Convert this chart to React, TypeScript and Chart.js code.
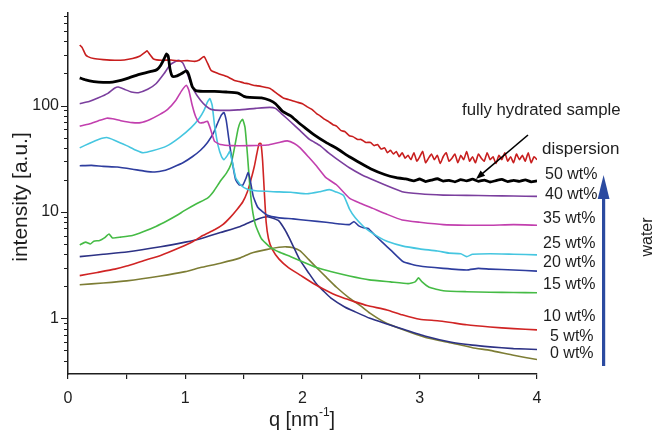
import React, { useEffect, useRef } from "react";
import { Chart, registerables } from "chart.js";

Chart.register(...registerables);

type Pt = [number, number];

// ---------- axes ----------
const Q_MIN = 0;
const Q_MAX = 4;
const I_MIN = 0.31;
const I_MAX = 740;
const X_TICKS = [0, 0.5, 1, 1.5, 2, 2.5, 3, 3.5, 4];
const X_LABELS = [0, 1, 2, 3, 4];
const Y_MAJOR = [1, 10, 100];
const Y_MINOR = [0.4, 0.5, 0.6, 0.7, 0.8, 0.9, 2, 3, 4, 5, 6, 7, 8, 9, 20, 30, 40, 50, 60, 70, 80, 90, 200, 300, 400, 500, 600, 700];

const X_TITLE = "q [nm";
const X_TITLE_SUP = "-1";
const X_TITLE_END = "]";
const Y_TITLE = "intensity [a.u.]";
const NOTE = "fully hydrated sample";
const WATER = "water";

// ---------- series (q [nm^-1], intensity [a.u.]) ----------
const dispersion: Pt[] = [
  [0.10, 370], [0.12, 352], [0.15, 300], [0.17, 288], [0.22, 276], [0.30, 270], [0.40, 266], [0.48, 268],
  [0.55, 276], [0.61, 290], [0.66, 318], [0.675, 326], [0.70, 300], [0.73, 274], [0.80, 266], [0.88, 268],
  [0.95, 262], [1.02, 264], [1.08, 260], [1.12, 268], [1.16, 288], [1.19, 250], [1.22, 214], [1.28, 200],
  [1.35, 188], [1.42, 172], [1.46, 168], [1.50, 163], [1.54, 160], [1.58, 155], [1.62, 153], [1.66, 150],
  [1.72, 145], [1.78, 130], [1.84, 117], [1.88, 114], [1.92, 110], [1.96, 107], [2.00, 104], [2.04, 97],
  [2.08, 92], [2.12, 84], [2.15, 80], [2.19, 74], [2.22, 71], [2.26, 66], [2.29, 64], [2.33, 58],
  [2.36, 57], [2.40, 52], [2.43, 51], [2.47, 48], [2.50, 48], [2.54, 45], [2.58, 45], [2.61, 42],
  [2.64, 43], [2.67, 39], [2.70, 40], [2.725, 36], [2.75, 38], [2.775, 35], [2.80, 37], [2.825, 33],
  [2.85, 36], [2.875, 32],
  [2.900, 34], [2.925, 31], [2.950, 36], [2.975, 30], [3.000, 33], [3.025, 37], [3.050, 29], [3.075, 32],
  [3.100, 35], [3.125, 31], [3.150, 34], [3.175, 28.5], [3.200, 33], [3.225, 36], [3.250, 30], [3.275, 32],
  [3.300, 35], [3.325, 29], [3.350, 34], [3.375, 31], [3.400, 37], [3.425, 30], [3.450, 33], [3.475, 29],
  [3.500, 35], [3.525, 32], [3.550, 30], [3.575, 36], [3.600, 31], [3.625, 33], [3.650, 28.5], [3.675, 34],
  [3.700, 31], [3.725, 36], [3.750, 30], [3.775, 33], [3.800, 29], [3.825, 35], [3.850, 31], [3.875, 34],
  [3.900, 30], [3.925, 36], [3.950, 29], [3.975, 33], [4.000, 31],
];

const wt50: Pt[] = [
  [0.10, 182], [0.15, 174], [0.22, 168], [0.30, 165], [0.38, 166], [0.45, 172], [0.52, 182], [0.60, 195],
  [0.66, 203], [0.72, 210], [0.76, 218], [0.79, 238], [0.82, 275], [0.84, 305], [0.855, 290], [0.87, 220],
  [0.89, 188], [0.93, 190], [0.97, 200], [1.01, 212], [1.03, 195], [1.06, 150], [1.09, 138], [1.15, 136],
  [1.25, 136], [1.35, 134], [1.45, 131], [1.50, 122], [1.55, 119], [1.65, 118], [1.72, 112], [1.77, 104],
  [1.83, 88], [1.90, 80], [1.96, 70], [2.02, 62], [2.10, 53], [2.20, 45], [2.30, 39], [2.40, 33],
  [2.50, 28.5], [2.58, 25.5], [2.70, 22.5], [2.80, 21], [2.88, 20.4],
  [2.90, 20.2], [2.95, 19.6], [3.00, 20.4], [3.05, 19.3], [3.10, 19.9], [3.15, 20.5], [3.20, 19.5], [3.25, 19.8],
  [3.30, 19.2], [3.35, 20.1], [3.40, 19.6], [3.45, 20.3], [3.50, 19.4], [3.55, 19.9], [3.60, 19.1], [3.65, 19.7],
  [3.70, 20.2], [3.75, 19.3], [3.80, 19.8], [3.85, 19.4], [3.90, 20.0], [3.95, 19.2], [4.00, 19.6],
];

const wt40: Pt[] = [
  [0.10, 104], [0.18, 109], [0.26, 118], [0.34, 130], [0.40, 146], [0.43, 149], [0.48, 142], [0.54, 134],
  [0.60, 132], [0.68, 142], [0.75, 160], [0.82, 200], [0.87, 240], [0.92, 260], [0.95, 265], [0.98, 250],
  [1.01, 210], [1.04, 170], [1.08, 135], [1.13, 112], [1.18, 98], [1.22, 92], [1.30, 90], [1.45, 91],
  [1.60, 94], [1.72, 96], [1.77, 94], [1.82, 84], [1.90, 70], [1.98, 58], [2.06, 48], [2.15, 42],
  [2.22, 36], [2.30, 31], [2.40, 26], [2.50, 22.5], [2.58, 20.5], [2.70, 18], [2.85, 15.5], [3.00, 14.8],
  [3.20, 14.4], [3.40, 14.3], [3.60, 14.2], [3.80, 14.1], [4.00, 14.0],
];

const wt35: Pt[] = [
  [0.10, 64], [0.18, 67], [0.26, 72], [0.33, 76], [0.38, 75], [0.45, 72], [0.55, 69], [0.62, 69],
  [0.70, 74], [0.78, 82], [0.85, 92], [0.92, 112], [0.97, 138], [1.01, 155], [1.03, 140], [1.06, 100],
  [1.09, 78], [1.12, 69], [1.15, 69], [1.19, 71], [1.22, 58], [1.25, 46], [1.30, 43], [1.40, 42],
  [1.55, 42], [1.70, 42.5], [1.80, 45], [1.87, 46.5], [1.93, 44], [1.98, 40], [2.05, 33], [2.12, 27],
  [2.20, 21], [2.29, 18], [2.40, 13.5], [2.50, 12], [2.60, 10.8], [2.72, 9.5], [2.85, 8.4], [3.00, 8.0],
  [3.20, 7.6], [3.40, 7.5], [3.60, 7.5], [3.80, 7.6], [4.00, 7.5],
];

const wt25: Pt[] = [
  [0.10, 40], [0.18, 44], [0.26, 48], [0.33, 50], [0.40, 47], [0.50, 42], [0.58, 38], [0.64, 36],
  [0.72, 37.5], [0.84, 41.5], [0.95, 50], [1.05, 62], [1.12, 76], [1.16, 90], [1.19, 108], [1.21, 116],
  [1.23, 100], [1.25, 65], [1.28, 42], [1.31, 33], [1.33, 31], [1.36, 34], [1.38, 37], [1.40, 30],
  [1.43, 21], [1.47, 18], [1.53, 16.3], [1.60, 15.8], [1.75, 15.5], [1.90, 15.3], [2.04, 14.8], [2.15, 15.5],
  [2.23, 16.2], [2.28, 15.5], [2.35, 14.3], [2.40, 10.7], [2.45, 8.8], [2.52, 7.3], [2.57, 6.6], [2.65, 5.8],
  [2.72, 5.3], [2.85, 4.8], [3.00, 4.5], [3.15, 4.3], [3.25, 4.1], [3.35, 4.05], [3.40, 3.8], [3.45, 4.0],
  [3.60, 4.05], [3.80, 4.0], [4.00, 3.95],
];

const wt20: Pt[] = [
  [0.10, 27.2], [0.20, 27.4], [0.30, 26.8], [0.42, 26.4], [0.55, 25.2], [0.65, 24.2], [0.74, 23.7], [0.82, 24.5],
  [0.90, 26.5], [0.98, 29], [1.06, 33], [1.13, 38], [1.19, 45], [1.24, 55], [1.28, 70], [1.31, 82],
  [1.33, 86], [1.35, 72], [1.37, 50], [1.40, 30], [1.43, 20], [1.46, 18], [1.49, 17.8], [1.52, 21],
  [1.535, 23.5], [1.55, 21], [1.58, 14], [1.62, 11], [1.70, 9.3], [1.80, 8.8], [1.92, 8.6], [2.05, 8.3],
  [2.20, 8.0], [2.32, 7.7], [2.40, 7.6], [2.44, 8.1], [2.48, 7.4], [2.52, 7.1], [2.56, 7.0], [2.62, 6.0],
  [2.68, 5.2], [2.76, 4.3], [2.86, 3.4], [3.00, 3.1], [3.20, 2.95], [3.40, 2.85], [3.50, 2.95], [3.60, 2.9],
  [3.80, 2.85], [4.00, 2.78],
];

const wt15: Pt[] = [
  [0.10, 4.9], [0.15, 5.2], [0.19, 5.0], [0.22, 5.3], [0.27, 5.4], [0.31, 5.7], [0.35, 6.2], [0.38, 5.7],
  [0.45, 5.8], [0.55, 6.0], [0.64, 6.5], [0.75, 7.3], [0.85, 8.3], [0.93, 9.3], [1.00, 10.4], [1.10, 12.0],
  [1.19, 13.5], [1.24, 15.5], [1.30, 19.5], [1.35, 23], [1.39, 28], [1.42, 40], [1.45, 60], [1.47, 70],
  [1.49, 74], [1.51, 62], [1.53, 35], [1.55, 18], [1.57, 11], [1.60, 7.5], [1.65, 5.6], [1.72, 4.7],
  [1.80, 4.2], [1.90, 3.8], [2.00, 3.4], [2.12, 3.0], [2.24, 2.75], [2.40, 2.5], [2.57, 2.3], [2.75, 2.2],
  [2.90, 2.12], [2.96, 2.2], [2.99, 2.4], [3.02, 2.2], [3.08, 1.96], [3.20, 1.82], [3.40, 1.78], [3.60, 1.76],
  [3.80, 1.75], [4.00, 1.74],
];

const wt10: Pt[] = [
  [0.10, 2.52], [0.25, 2.7], [0.40, 2.9], [0.50, 3.1], [0.65, 3.5], [0.79, 3.9], [0.95, 4.6], [1.07, 5.3],
  [1.15, 6.0], [1.25, 6.8], [1.32, 7.6], [1.38, 8.8], [1.44, 10.5], [1.49, 12.4], [1.53, 15.5], [1.56, 20],
  [1.59, 27], [1.61, 35], [1.63, 44], [1.645, 44], [1.66, 30], [1.675, 15], [1.69, 8], [1.71, 5.6],
  [1.74, 4.5], [1.80, 3.6], [1.88, 3.0], [1.98, 2.55], [2.10, 2.1], [2.24, 1.74], [2.35, 1.55], [2.43, 1.45],
  [2.55, 1.32], [2.72, 1.2], [2.85, 1.08], [3.00, 0.98], [3.15, 0.95], [3.25, 0.92], [3.40, 0.87], [3.60, 0.83],
  [3.80, 0.8], [4.00, 0.78],
];

const wt5: Pt[] = [
  [0.10, 3.8], [0.30, 4.0], [0.50, 4.2], [0.79, 4.7], [1.00, 5.2], [1.13, 5.6], [1.30, 6.4], [1.47, 7.3],
  [1.55, 8.0], [1.62, 8.6], [1.70, 9.0], [1.75, 8.7], [1.80, 8.2], [1.85, 6.8], [1.89, 5.6], [1.94, 4.3],
  [1.98, 3.5], [2.05, 2.7], [2.12, 2.1], [2.18, 1.8], [2.24, 1.56], [2.36, 1.28], [2.45, 1.15], [2.575, 1.0],
  [2.70, 0.9], [2.86, 0.79], [3.05, 0.68], [3.26, 0.6], [3.45, 0.56], [3.60, 0.54], [3.80, 0.52], [4.00, 0.51],
];

const wt0: Pt[] = [
  [0.10, 2.07], [0.30, 2.15], [0.50, 2.25], [0.79, 2.5], [1.00, 2.75], [1.13, 3.0], [1.30, 3.3], [1.47, 3.7],
  [1.56, 4.1], [1.70, 4.45], [1.80, 4.65], [1.86, 4.7], [1.92, 4.6], [1.98, 4.3], [2.05, 3.6], [2.12, 3.0],
  [2.20, 2.45], [2.29, 1.96], [2.40, 1.55], [2.50, 1.3], [2.575, 1.12], [2.70, 0.92], [2.86, 0.78], [3.05, 0.66],
  [3.26, 0.59], [3.45, 0.53], [3.60, 0.5], [3.80, 0.45], [4.00, 0.41],
];

// drawn top-most first
const SERIES_DATA: Pt[][] = [wt50, dispersion, wt40, wt35, wt25, wt20, wt15, wt10, wt5, wt0];
const SERIES_NAMES = ["50 wt%", "dispersion", "40 wt%", "35 wt%", "25 wt%", "20 wt%", "15 wt%", "10 wt%", "5 wt%", "0 wt%"];
const SERIES_COLORS = ["#000000", "#c81e1e", "#7b3f9e", "#c23fae", "#45c6e0", "#2e3d9e", "#45bb45", "#d02424", "#2d3285", "#7d7d35"];
const SERIES_WIDTHS = [2.8, 1.6, 1.6, 1.6, 1.6, 1.6, 1.6, 1.6, 1.6, 1.6];

// right-hand label texts, top to bottom
const LABELS = ["dispersion", "50 wt%", "40 wt%", "35 wt%", "25 wt%", "20 wt%", "15 wt%", "10 wt%", "5 wt%", "0 wt%"];

const FONT = "'Liberation Sans', Arial, Helvetica, sans-serif";
const INK = "#1e1e1e";

export default function App() {
  const ref = useRef<HTMLCanvasElement | null>(null);

  useEffect(() => {
    const canvas = ref.current;
    if (!canvas) return;

    const labelPos: [number, number, number][] = [
      [542, 149, 17], [545, 175, 16], [545, 195, 16], [543, 218.5, 16], [543, 243.5, 16],
      [543, 262.5, 16], [543, 284.5, 16], [543, 316.5, 16], [550, 337, 16], [550, 353.5, 16],
    ];

    const overlay = {
      id: "overlay",
      afterDraw(chart: any) {
        const ctx: CanvasRenderingContext2D = chart.ctx;
        const { left } = chart.chartArea;
        const ys = chart.scales.y;
        ctx.save();
        // y tick marks
        ctx.strokeStyle = INK;
        ctx.lineWidth = 1.2;
        ctx.beginPath();
        for (const v of Y_MAJOR) {
          const p = Math.round(ys.getPixelForValue(v)) + 0.5;
          ctx.moveTo(left - 7, p);
          ctx.lineTo(left, p);
        }
        for (const v of Y_MINOR) {
          const p = Math.round(ys.getPixelForValue(v)) + 0.5;
          ctx.moveTo(left - 4, p);
          ctx.lineTo(left, p);
        }
        ctx.stroke();

        ctx.fillStyle = INK;
        // y title
        ctx.save();
        ctx.translate(21, 197);
        ctx.rotate(-Math.PI / 2);
        ctx.font = `21px ${FONT}`;
        ctx.textAlign = "center";
        ctx.textBaseline = "middle";
        ctx.fillText(Y_TITLE, 0, 0);
        ctx.restore();

        // x title with superscript
        ctx.textBaseline = "alphabetic";
        ctx.textAlign = "left";
        ctx.font = `20px ${FONT}`;
        const w1 = ctx.measureText(X_TITLE).width;
        const w3 = ctx.measureText(X_TITLE_END).width;
        ctx.font = `12px ${FONT}`;
        const w2 = ctx.measureText(X_TITLE_SUP).width;
        let x0 = 302 - (w1 + w2 + w3) / 2;
        ctx.font = `20px ${FONT}`;
        ctx.fillText(X_TITLE, x0, 426);
        ctx.font = `12px ${FONT}`;
        ctx.fillText(X_TITLE_SUP, x0 + w1, 416);
        ctx.font = `20px ${FONT}`;
        ctx.fillText(X_TITLE_END, x0 + w1 + w2, 426);

        // right-hand labels
        ctx.textBaseline = "middle";
        LABELS.forEach((t, i) => {
          const [lx, ly, fs] = labelPos[i];
          ctx.font = `${fs}px ${FONT}`;
          ctx.fillText(t, lx, ly);
        });
        ctx.font = `16.8px ${FONT}`;
        ctx.fillText(NOTE, 462, 110);

        // black pointer arrow
        ctx.strokeStyle = "#000";
        ctx.fillStyle = "#000";
        ctx.lineWidth = 1.6;
        const ax0 = 528, ay0 = 135, ax1 = 476, ay1 = 179;
        const ang = Math.atan2(ay1 - ay0, ax1 - ax0);
        ctx.beginPath();
        ctx.moveTo(ax0, ay0);
        ctx.lineTo(ax1 - 6 * Math.cos(ang), ay1 - 6 * Math.sin(ang));
        ctx.stroke();
        ctx.beginPath();
        ctx.moveTo(ax1, ay1);
        ctx.lineTo(ax1 - 9 * Math.cos(ang) + 3.5 * Math.sin(ang), ay1 - 9 * Math.sin(ang) - 3.5 * Math.cos(ang));
        ctx.lineTo(ax1 - 9 * Math.cos(ang) - 3.5 * Math.sin(ang), ay1 - 9 * Math.sin(ang) + 3.5 * Math.cos(ang));
        ctx.closePath();
        ctx.fill();

        // blue water arrow
        const blue = "#2b4aa0";
        ctx.fillStyle = blue;
        ctx.fillRect(602, 196, 3.2, 170);
        ctx.beginPath();
        ctx.moveTo(603.6, 175);
        ctx.lineTo(609.5, 199);
        ctx.lineTo(597.7, 199);
        ctx.closePath();
        ctx.fill();

        // water
        ctx.fillStyle = INK;
        ctx.save();
        ctx.translate(648, 237);
        ctx.rotate(-Math.PI / 2);
        ctx.font = `16px ${FONT}`;
        ctx.textAlign = "center";
        ctx.textBaseline = "middle";
        ctx.fillText(WATER, 0, 0);
        ctx.restore();

        ctx.restore();
      },
    };

    const chart = new Chart(canvas, {
      type: "line",
      data: {
        datasets: SERIES_DATA.map((d, i) => ({
          label: SERIES_NAMES[i],
          data: d.map(([x, y]) => ({ x, y })),
          borderColor: SERIES_COLORS[i],
          backgroundColor: SERIES_COLORS[i],
          borderWidth: SERIES_WIDTHS[i],
          pointRadius: 0,
          tension: 0.15,
          fill: false,
        })),
      },
      options: {
        animation: false,
        responsive: false,
        devicePixelRatio: 1,
        parsing: false as any,
        layout: { padding: { left: 0, right: 118, top: 13, bottom: 0 } },
        plugins: { legend: { display: false }, tooltip: { enabled: false } },
        scales: {
          x: {
            type: "linear",
            min: Q_MIN,
            max: Q_MAX,
            afterBuildTicks: (s: any) => {
              s.ticks = X_TICKS.map((v) => ({ value: v }));
            },
            afterFit: (s: any) => {
              s.height = 61;
              s.paddingLeft = 0;
              s.paddingRight = 0;
            },
            grid: { display: true, drawOnChartArea: false, drawTicks: true, tickLength: 5, color: INK, tickColor: INK, lineWidth: 1.2 },
            border: { display: true, color: INK, width: 1.5 },
            ticks: {
              autoSkip: false,
              maxRotation: 0,
              padding: 10,
              color: INK,
              font: { family: FONT, size: 16 },
              callback: (v: any) => (X_LABELS.includes(Number(v)) ? String(v) : ""),
            },
          },
          y: {
            type: "logarithmic",
            min: I_MIN,
            max: I_MAX,
            afterBuildTicks: (s: any) => {
              s.ticks = [...Y_MINOR, ...Y_MAJOR].sort((a, b) => a - b).map((v) => ({ value: v, major: Y_MAJOR.includes(v) }));
            },
            afterFit: (s: any) => {
              s.width = 68;
              s.paddingTop = 0;
              s.paddingBottom = 0;
            },
            grid: { display: false, drawTicks: false },
            border: { display: true, color: INK, width: 1.5 },
            ticks: {
              autoSkip: false,
              padding: 9,
              color: INK,
              font: { family: FONT, size: 16 },
              callback: (v: any) => (Y_MAJOR.includes(Number(v)) ? String(v) : ""),
            },
          },
        },
      },
      plugins: [overlay],
    } as any);

    return () => chart.destroy();
  }, []);

  return (
    <div style={{ position: "absolute", left: 0, top: 0, width: 655, height: 435, background: "#fff" }}>
      <canvas ref={ref} width={655} height={435} style={{ display: "block", width: 655, height: 435 }} />
    </div>
  );
}
